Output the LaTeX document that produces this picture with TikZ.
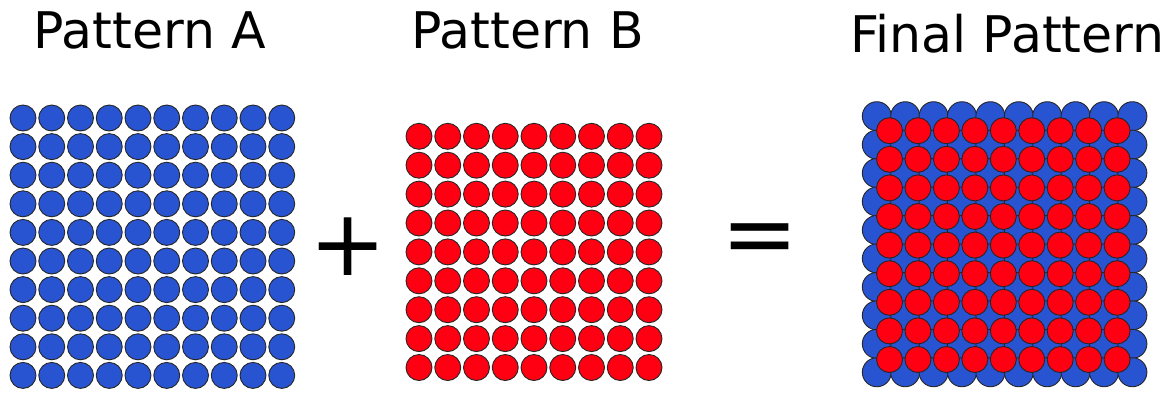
\documentclass[tikz,border=0pt]{standalone}
\usepackage{fontspec}
\setmainfont{DejaVu Sans}
\definecolor{dotblue}{RGB}{41,84,209}
\definecolor{dotred}{RGB}{255,0,18}

\begin{document}
\begin{tikzpicture}[x=1pt, y=-1pt,
  bluedot/.style={fill=dotblue, draw=black!85, line width=0.9pt},
  reddot/.style={fill=dotred, draw=black!85, line width=0.9pt},
  title/.style={font=\fontsize{50.5}{60}\selectfont, anchor=base},
  sign/.style={font=\fontsize{92}{100}\selectfont, inner sep=0pt}]

\useasboundingbox (0,0) rectangle (1176,392);

% === TITLES ===
\node[title] (titleA) at (149.5,48) {Pattern A};
\node[title] (titleB) at (527.5,48) {Pattern B};
\node[title] (titleF) at (1007.5,52.7) {Final Pattern};

% === PATTERN A: 10x10 blue ===
\foreach \i in {0,...,9} {
  \foreach \j in {0,...,9} {
    \pgfmathsetmacro{\x}{23 + \i*28.75}
    \pgfmathsetmacro{\y}{118 + \j*28.6}
    \filldraw[bluedot] (\x,\y) circle (13pt);
  }
}

% === PLUS ===
\node[sign] (plus) at (348.5,247) {+};

% === PATTERN B: 9x9 red ===
\foreach \i in {0,...,8} {
  \foreach \j in {0,...,8} {
    \pgfmathsetmacro{\x}{419 + \i*28.75}
    \pgfmathsetmacro{\y}{136.3 + \j*28.9}
    \filldraw[reddot] (\x,\y) circle (13pt);
  }
}

% === EQUALS ===
\node[sign] (equals) at (760,245) {=};

% === FINAL PATTERN: blue underneath, red in the gaps ===
\foreach \i in {0,...,9} {
  \foreach \j in {0,...,9} {
    \pgfmathsetmacro{\x}{876.8 + \i*28.4}
    \pgfmathsetmacro{\y}{116.2 + \j*28.45}
    \filldraw[bluedot] (\x,\y) circle (14.5pt);
  }
}
\foreach \i in {0,...,8} {
  \foreach \j in {0,...,8} {
    \pgfmathsetmacro{\x}{889.5 + \i*28.45}
    \pgfmathsetmacro{\y}{130.7 + \j*28.6}
    \filldraw[reddot] (\x,\y) circle (13pt);
  }
}

\end{tikzpicture}
\end{document}
